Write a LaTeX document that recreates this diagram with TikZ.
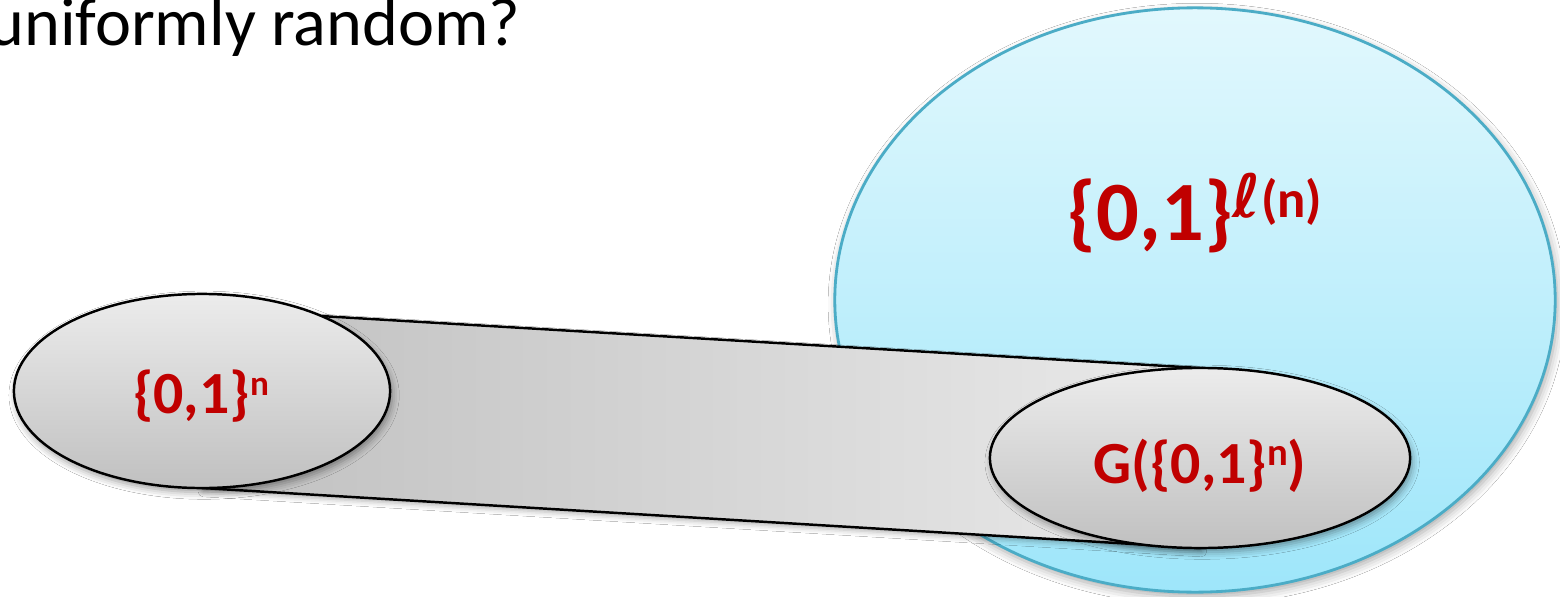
\documentclass[tikz,border=0pt]{standalone}
\usepackage{fontspec}
\setmainfont{Carlito}
\newfontfamily\ellfont{DejaVu Sans}
\usetikzlibrary{shapes.geometric,shadows.blur}
\definecolor{labred}{RGB}{192,0,0}
\definecolor{skytop}{RGB}{226,248,253}
\definecolor{skybot}{RGB}{158,230,250}
\definecolor{skyline}{RGB}{75,172,198}
\definecolor{gtop}{RGB}{236,236,236}
\definecolor{gbot}{RGB}{192,192,192}
\definecolor{bandl}{RGB}{192,192,192}
\definecolor{bandr}{RGB}{234,234,234}
\tikzset{
  bigset/.style={ellipse, inner sep=0pt, draw=skyline, line width=0.8pt,
    top color=skytop, bottom color=skybot,
    blur shadow={shadow xshift=0.6pt, shadow yshift=-1.2pt, shadow blur radius=2.5pt, shadow opacity=35}},
  smallset/.style={ellipse, inner sep=0pt, draw=black, line width=0.7pt,
    top color=gtop, bottom color=gbot,
    blur shadow={shadow xshift=0.6pt, shadow yshift=-1.2pt, shadow blur radius=2pt, shadow opacity=40}},
  bandshape/.style={draw=black, line width=0.7pt, left color=bandl, right color=bandr, line join=round,
    blur shadow={shadow xshift=0.4pt, shadow yshift=-1pt, shadow blur radius=1.5pt, shadow opacity=30}},
  setlabel/.style={anchor=base, inner sep=0pt, text=labred},
  titletext/.style={anchor=base east, inner sep=0pt, font=\fontsize{19.4pt}{22pt}\selectfont}
}
\begin{document}
\begin{tikzpicture}[x=0.01cm, y=-0.01cm]
\useasboundingbox (0,0) rectangle (1560,597);
\fill[white] (0,0) rectangle (1560,597);
\node[titletext] (title) at (521,45) {uniformly random?};
\node[bigset, minimum width=7.2cm, minimum height=5.84cm] (B) at (1195,300) {};
% corners of the band joining the two small sets
\coordinate (bandtl) at (202,309);
\coordinate (bandbl) at (202,488);
\coordinate (bandtr) at (1200,368);
\coordinate (bandbr) at (1200,548);
\path[bandshape] (bandtl) -- (bandtr) -- (bandbr) -- (bandbl) -- cycle;
\node[smallset, minimum width=3.76cm, minimum height=1.94cm] (L) at (202,391) {};
\node[smallset, minimum width=4.2cm, minimum height=1.8cm] (R) at (1200,458) {};
\node[setlabel, font=\bfseries\fontsize{24pt}{28pt}\selectfont] (Blab) at (1195,240)
  {\{0,1\}\raisebox{6.5pt}{\fontsize{15pt}{17pt}\selectfont{\ellfont\bfseries\fontsize{17pt}{19pt}\selectfont ℓ}(n)}};
\node[setlabel, font=\bfseries\fontsize{17pt}{20pt}\selectfont] (Llab) at (201,413)
  {\{0,1\}\raisebox{5pt}{\fontsize{10pt}{12pt}\selectfont n}};
\node[setlabel, font=\bfseries\fontsize{17pt}{20pt}\selectfont] (Rlab) at (1200,483)
  {G(\{0,1\}\raisebox{5pt}{\fontsize{11pt}{13pt}\selectfont n})};
\end{tikzpicture}
\end{document}
